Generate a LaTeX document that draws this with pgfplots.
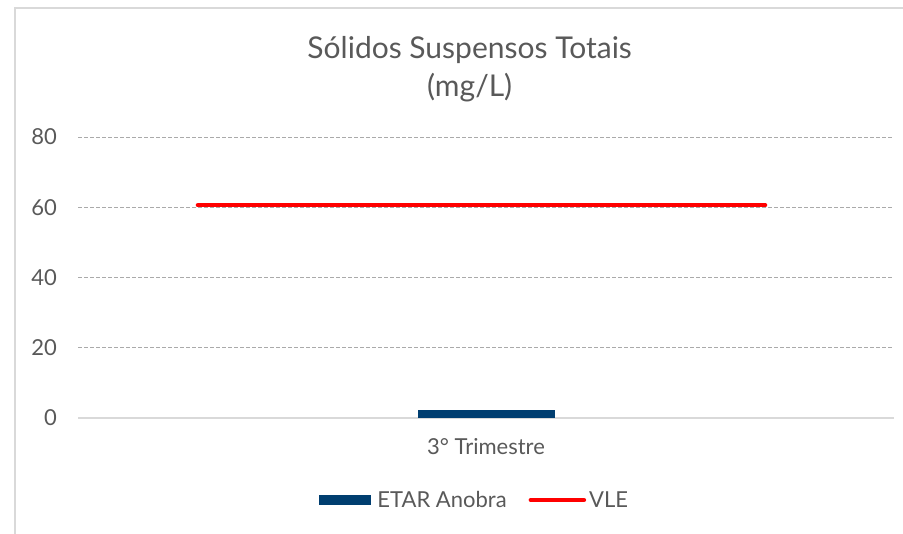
\documentclass[border=0pt]{standalone}
\usepackage{pgfplots}
\pgfplotsset{compat=1.18}
\usepackage{fontspec}
\setmainfont{Lato}
\definecolor{txt}{RGB}{89,89,89}
\definecolor{etar}{RGB}{0,62,112}
\definecolor{vle}{RGB}{255,0,0}
\definecolor{gridc}{RGB}{170,170,170}
\definecolor{framec}{RGB}{217,217,217}
\begin{document}
\begin{tikzpicture}[x=1pt,y=1pt]
\useasboundingbox (0,0) rectangle (903,534);
\draw[framec, line width=1.2pt] (15,-20) -- (15,526) -- (930,526);
\begin{axis}[
  at={(78pt,116pt)}, anchor=south west,
  scale only axis, width=816pt, height=281pt,
  xmin=-0.5, xmax=0.5, ymin=0, ymax=80,
  xtick={0}, xticklabels={3° Trimestre},
  ytick={0,20,40,60,80},
  major tick length=0pt,
  axis x line*=bottom, axis y line*=left,
  x axis line style={draw=framec, line width=1.5pt, -},
  y axis line style={draw=none},
  ymajorgrids,
  grid style={gridc, line width=0.8pt, dash pattern=on 4pt off 2pt},
  tick label style={font=\fontsize{22}{26}\selectfont, text=txt},
  /pgf/number format/assume math mode=true,
  yticklabel style={anchor=east, inner sep=0pt, xshift=-21pt},
  xticklabel style={anchor=north, inner sep=0pt, yshift=-20pt},
  title={Sólidos Suspensos Totais\\(mg/L)},
  title style={font=\fontsize{30}{38}\selectfont, text=txt, align=center, anchor=south, at={(0.48,1)}, yshift=25pt},
  legend columns=2,
  legend style={draw=none, at={(0.485,-0.292)}, anchor=center, font=\fontsize{22}{26}\selectfont, text=txt,
    /tikz/every even column/.append style={column sep=22pt},
    nodes={inner sep=0pt}},
  clip=false,
]
\addplot[ybar, bar width=137pt, fill=etar, draw=none,
  legend image code/.code={\fill[etar] (0pt,-5pt) rectangle (52pt,5pt); \path (58pt,0pt);}]
  coordinates {(0,2.2)};
\addlegendentry{ETAR Anobra}
\addplot[vle, line width=4.5pt, line cap=round, mark=none,
  legend image code/.code={\draw[vle, line width=4.5pt, line cap=round] (0pt,0pt) -- (53pt,0pt); \path (56pt,0pt);}]
  coordinates {(-0.353,60.6) (0.342,60.6)};
\addlegendentry{VLE}
\end{axis}
\end{tikzpicture}
\end{document}
